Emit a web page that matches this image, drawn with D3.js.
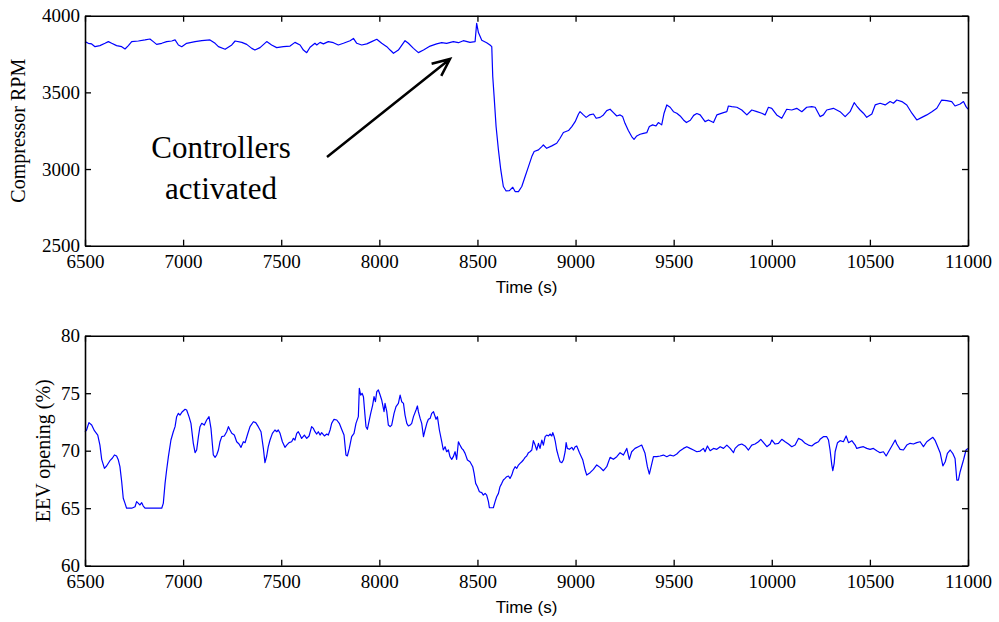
<!DOCTYPE html>
<html>
<head>
<meta charset="utf-8">
<script src="https://cdn.jsdelivr.net/npm/d3@7"></script>
<style>
  body { margin: 0; background: #fff; }
  .tick text { font-family: "Liberation Serif", "Times New Roman", serif; font-size: 19px; fill: #000; }
  .axis path, .axis line { stroke: #000; }
</style>
</head>
<body>
<div id="chart"></div>
<script>
const width = 999;
const height = 622;

const xTicks = [6500, 7000, 7500, 8000, 8500, 9000, 9500, 10000, 10500, 11000]
const rpmTicks = [2500, 3000, 3500, 4000]
const eevTicks = [60, 65, 70, 75, 80]

// compressor speed
const rpmTimes = [6500,6517,6534,6551,6576,6602,6619,6636,6661,6687,6704,6721,6738,6772,6806,6831,6848,6865,6891,6916,
  6942,6959,6976,6993,7018,7061,7095,7137,7163,7180,7214,7248,7265,7299,7324,7350,7366,7392,7426,7451,
  7477,7511,7545,7570,7596,7613,7630,7647,7672,7681,7698,7715,7740,7766,7791,7817,7851,7868,7885,7910,
  7936,7961,7987,8012,8038,8055,8072,8097,8131,8148,8174,8199,8225,8259,8292,8318,8343,8377,8403,8428,
  8462,8488,8496,8505,8522,8547,8564,8573,8578,8585,8595,8607,8619,8632,8646,8663,8680,8692,8709,8726,
  8743,8760,8777,8789,8811,8828,8836,8853,8879,8904,8921,8938,8964,8981,8998,9015,9023,9040,9054,9071,
  9091,9105,9125,9142,9159,9176,9193,9210,9227,9240,9252,9269,9286,9298,9312,9329,9346,9363,9376,9393,
  9410,9422,9439,9451,9465,9482,9499,9516,9533,9550,9565,9585,9602,9618,9635,9660,9677,9703,9720,9754,
  9771,9779,9796,9822,9847,9873,9898,9924,9949,9966,9983,10000,10025,10051,10076,10102,10127,10153,10178,10204,
  10221,10246,10263,10280,10314,10348,10374,10399,10420,10433,10450,10467,10484,10510,10527,10552,10578,10603,10620,10637,
  10663,10688,10714,10739,10765,10790,10816,10841,10866,10892,10917,10934,10960,10977,10990,11000]
const rpmValues = [3831,3820,3816,3798,3805,3820,3831,3820,3805,3798,3783,3805,3831,3835,3842,3848,3831,3813,3820,3831,
  3835,3842,3809,3798,3820,3831,3837,3842,3820,3798,3781,3809,3835,3826,3813,3787,3776,3792,3831,3809,
  3792,3798,3802,3826,3809,3776,3759,3794,3820,3809,3826,3816,3831,3824,3809,3820,3837,3852,3820,3809,
  3816,3831,3846,3820,3798,3776,3755,3776,3837,3820,3787,3759,3776,3802,3816,3824,3820,3831,3824,3837,
  3826,3831,3950,3890,3840,3824,3809,3798,3603,3472,3277,3124,2994,2886,2857,2859,2881,2853,2853,2886,
  2951,3016,3081,3114,3125,3146,3157,3135,3151,3168,3201,3238,3251,3277,3309,3359,3374,3353,3337,3353,
  3359,3331,3337,3353,3381,3390,3368,3346,3353,3342,3298,3251,3212,3194,3216,3227,3233,3237,3277,3288,
  3281,3303,3288,3364,3418,3403,3374,3364,3346,3320,3303,3318,3350,3362,3353,3309,3320,3303,3353,3368,
  3374,3411,3407,3403,3385,3353,3385,3374,3364,3353,3403,3396,3353,3331,3390,3385,3396,3374,3403,3407,
  3403,3342,3353,3385,3396,3374,3342,3374,3433,3411,3385,3364,3337,3359,3418,3429,3418,3440,3429,3450,
  3440,3418,3364,3320,3337,3353,3374,3396,3450,3446,3440,3411,3424,3440,3407,3390]

// EEV opening
const eevTimes = [6500,6508,6520,6534,6548,6565,6576,6585,6599,6610,6627,6639,6650,6661,6670,6678,6687,6695,6704,6712,
  6738,6755,6763,6772,6780,6789,6797,6806,6840,6891,6899,6908,6916,6925,6938,6950,6959,6967,6976,6984,
  6996,7010,7018,7030,7040,7052,7061,7069,7078,7086,7095,7108,7120,7132,7142,7154,7163,7171,7180,7188,
  7197,7210,7222,7231,7239,7248,7261,7273,7285,7295,7307,7316,7329,7341,7358,7370,7383,7397,7409,7417,
  7426,7434,7443,7455,7468,7477,7485,7494,7506,7519,7528,7540,7553,7562,7570,7579,7587,7596,7604,7618,
  7630,7642,7655,7664,7672,7681,7689,7698,7706,7720,7732,7740,7749,7757,7769,7783,7796,7808,7820,7830,
  7837,7847,7859,7871,7881,7893,7898,7905,7912,7919,7926,7932,7939,7949,7956,7966,7973,7980,7987,7995,
  8004,8012,8024,8029,8038,8046,8055,8063,8075,8085,8097,8106,8114,8123,8131,8140,8148,8157,8165,8174,
  8187,8194,8199,8208,8216,8225,8233,8242,8250,8259,8267,8276,8289,8296,8306,8318,8326,8335,8343,8352,
  8360,8369,8377,8386,8394,8403,8411,8420,8428,8437,8449,8462,8476,8483,8491,8500,8510,8522,8530,8539,
  8547,8556,8561,8581,8590,8598,8607,8615,8624,8632,8641,8649,8658,8666,8675,8683,8692,8700,8709,8717,
  8726,8734,8743,8751,8760,8768,8777,8785,8794,8802,8811,8819,8828,8836,8845,8853,8862,8870,8879,8884,
  8891,8897,8904,8913,8921,8930,8938,8947,8952,8958,8969,8981,8989,8998,9006,9020,9037,9049,9057,9074,
  9091,9108,9125,9142,9159,9176,9193,9210,9227,9244,9261,9274,9286,9303,9320,9337,9354,9366,9376,9383,
  9397,9414,9431,9448,9465,9482,9499,9516,9533,9550,9567,9584,9601,9618,9635,9652,9660,9672,9686,9703,
  9720,9737,9754,9771,9788,9805,9813,9830,9847,9864,9881,9898,9915,9932,9944,9958,9975,9992,10000,10017,
  10034,10051,10068,10085,10102,10119,10136,10153,10170,10187,10204,10221,10238,10246,10263,10280,10289,10297,10306,10311,
  10318,10323,10335,10348,10365,10379,10391,10408,10425,10433,10450,10467,10484,10501,10518,10535,10552,10569,10583,10595,
  10612,10629,10637,10654,10671,10688,10705,10722,10739,10756,10773,10790,10807,10821,10833,10844,10858,10872,10884,10895,
  10909,10922,10934,10943,10951,10960,10977,10990,11000]
const eevValues = [71.65,71.80,72.44,72.23,71.74,71.36,70.49,69.25,68.46,68.67,69.13,69.34,69.63,69.54,69.19,68.61,67.30,65.86,65.42,65.00,
  65.00,65.13,65.57,65.42,65.28,65.48,65.19,65.00,65.00,65.00,65.42,67.16,68.32,69.48,70.93,71.65,72.09,72.96,73.25,73.10,
  73.39,73.60,73.54,72.96,72.38,70.64,69.83,70.06,71.22,72.09,72.38,72.23,72.67,72.96,71.94,69.63,69.42,69.63,70.06,70.78,
  71.22,71.28,71.65,72.09,71.80,71.51,71.36,70.78,70.58,70.29,70.78,70.70,71.45,72.09,72.52,72.44,72.09,71.65,70.20,68.96,
  69.54,70.35,70.93,71.51,71.80,71.65,71.80,71.51,70.78,70.29,70.49,70.70,70.78,71.07,70.93,71.51,71.65,71.36,71.07,71.36,
  71.07,71.28,72.09,71.94,71.65,71.45,71.65,71.36,71.57,71.28,71.45,71.36,71.80,72.38,72.73,72.67,72.38,71.86,71.36,69.62,
  69.54,70.20,71.22,71.51,72.38,72.96,75.42,74.84,74.99,74.70,73.25,72.09,71.86,72.67,73.25,73.97,74.70,74.26,75.13,75.28,
  74.84,74.41,73.39,74.12,73.39,72.23,72.09,72.23,73.25,73.83,74.12,74.84,74.26,74.12,73.10,72.38,72.15,72.23,72.38,72.96,
  73.54,73.89,73.39,72.81,72.38,71.22,71.80,72.38,72.73,72.81,73.25,73.39,72.73,72.96,71.80,70.78,70.06,70.35,69.91,70.06,
  69.48,69.25,69.48,69.91,69.25,70.78,70.49,70.20,70.06,69.77,69.19,69.04,68.61,68.03,67.16,66.87,66.43,66.35,66.14,66.29,
  66.14,65.57,65.04,65.04,65.57,66.00,66.29,66.87,67.16,67.45,67.59,67.74,67.80,67.59,67.88,68.32,68.61,68.46,68.75,68.90,
  69.04,69.19,69.42,69.54,69.83,69.91,70.06,70.87,70.49,70.06,70.64,70.20,70.93,70.49,71.22,71.36,71.28,71.45,71.28,71.57,
  71.22,70.78,70.06,69.48,69.04,68.96,69.19,69.91,70.70,70.20,70.12,70.29,70.06,70.35,70.41,69.83,69.19,68.32,67.88,68.09,
  68.38,68.76,68.55,68.26,68.61,69.42,69.25,69.48,69.83,69.62,70.20,69.25,69.91,70.20,70.35,70.49,69.77,68.61,67.97,68.46,
  69.48,69.48,69.54,69.62,69.48,69.62,69.54,69.71,70.00,70.20,70.35,70.20,70.06,69.91,69.97,70.20,69.91,70.41,70.00,70.20,
  70.12,70.35,70.20,70.49,70.20,69.83,70.20,70.49,70.58,70.41,70.06,70.49,70.58,70.78,70.99,70.70,70.35,70.58,70.93,70.58,
  70.64,70.99,70.78,70.58,70.35,70.49,71.07,70.93,70.64,70.49,70.41,70.64,70.78,70.99,71.22,71.22,70.93,70.06,68.75,68.26,
  68.90,69.91,70.70,70.87,70.78,71.28,70.70,70.87,70.49,70.20,70.29,70.35,70.20,70.12,70.20,70.00,69.83,69.91,69.54,69.91,
  70.41,70.93,70.58,70.12,70.06,70.49,70.64,70.58,70.70,70.78,70.35,70.78,70.99,71.16,70.87,70.41,69.83,68.67,69.04,69.77,
  70.06,69.77,69.33,67.45,67.45,68.17,69.19,70.06,70.20]

const left = 85, right = 968
const panels = [
  {top: 15.7, bottom: 245.7, times: rpmTimes, values: rpmValues, domain: [2500, 4000], ticks: rpmTicks,
   label: "Compressor RPM", labelX: 25},
  {top: 335.7, bottom: 565.7, times: eevTimes, values: eevValues, domain: [60, 80], ticks: eevTicks,
   label: "EEV opening (%)", labelX: 49.5}
]

const svg = d3.select("#chart")
  .append("svg")
  .attr("width", width)
  .attr("height", height)

const x = d3.scaleLinear().domain([6500, 11000]).range([left, right])

panels.forEach((p) => {
  const y = d3.scaleLinear().domain(p.domain).range([p.bottom, p.top])
  const g = svg.append("g")

  // the trace
  const line = d3.line()
    .x((d) => x(p.times[d]))
    .y((d) => y(p.values[d]))
  g.append("path")
    .datum(d3.range(p.times.length))
    .attr("d", line)
    .attr("fill", "none")
    .attr("stroke", "#0000ff")
    .attr("stroke-width", 1.2)
    .attr("stroke-linejoin", "round")

  // axes, ticks pointing inwards on all four sides
  g.append("g").attr("class", "axis")
    .attr("transform", `translate(0,${p.bottom})`)
    .call(d3.axisBottom(x).tickValues(xTicks).tickSizeInner(-6).tickSizeOuter(0).tickPadding(9).tickFormat(d3.format("d")))
  g.append("g").attr("class", "axis")
    .attr("transform", `translate(0,${p.top})`)
    .call(d3.axisTop(x).tickValues(xTicks).tickSizeInner(-6).tickSizeOuter(0).tickFormat(""))
  g.append("g").attr("class", "axis")
    .attr("transform", `translate(${left},0)`)
    .call(d3.axisLeft(y).tickValues(p.ticks).tickSizeInner(-6).tickSizeOuter(0).tickPadding(5).tickFormat(d3.format("d")))
  g.append("g").attr("class", "axis")
    .attr("transform", `translate(${right},0)`)
    .call(d3.axisRight(y).tickValues(p.ticks).tickSizeInner(-6).tickSizeOuter(0).tickFormat(""))

  g.selectAll(".axis path").attr("stroke-width", 1.6)
  g.selectAll(".axis line").attr("stroke-width", 1.3)

  g.append("text")
    .attr("x", (left + right) / 2)
    .attr("y", p.bottom + 47)
    .attr("text-anchor", "middle")
    .style("font-family", "'Liberation Sans', Arial, sans-serif")
    .style("font-size", "17px")
    .text("Time (s)")

  g.append("text")
    .attr("transform", `translate(${p.labelX},${(p.top + p.bottom) / 2}) rotate(-90)`)
    .attr("text-anchor", "middle")
    .style("font-family", "'Liberation Serif', 'Times New Roman', serif")
    .style("font-size", "20px")
    .text(p.label)
})

// annotation
const note = svg.append("g")
  .style("font-family", "'Liberation Serif', 'Times New Roman', serif")
  .style("font-size", "31px")
  .attr("text-anchor", "middle")
note.append("text").attr("x", 221).attr("y", 158).text("Controllers")
note.append("text").attr("x", 221).attr("y", 199).text("activated")

const ax0 = 327, ay0 = 157, ax1 = 450, ay1 = 59
const ang = Math.atan2(ay1 - ay0, ax1 - ax0)
const head = 19, spread = 0.42
note.append("path")
  .attr("d", `M${ax0},${ay0}L${ax1},${ay1}` +
    `M${ax1 - head * Math.cos(ang - spread)},${ay1 - head * Math.sin(ang - spread)}L${ax1},${ay1}` +
    `L${ax1 - head * Math.cos(ang + spread)},${ay1 - head * Math.sin(ang + spread)}`)
  .attr("fill", "none")
  .attr("stroke", "#000")
  .attr("stroke-width", 2.5)
</script>
</body>
</html>
